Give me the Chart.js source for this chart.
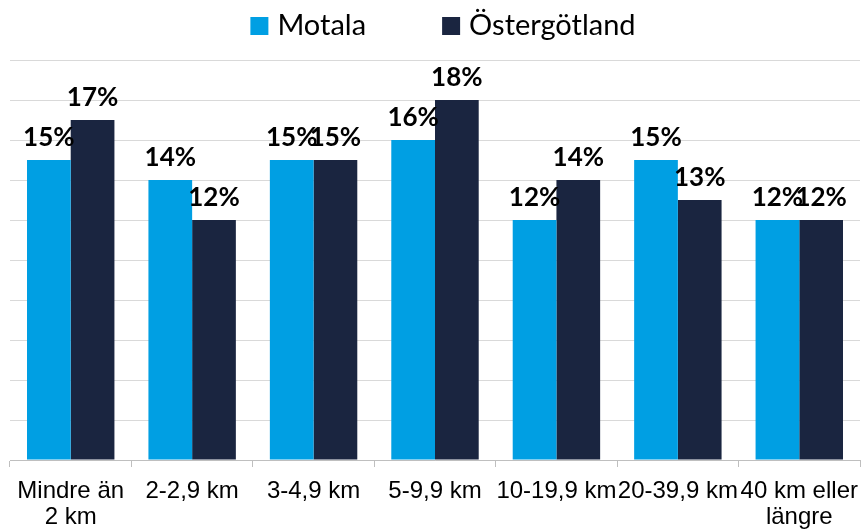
<!DOCTYPE html>
<html>
<head>
<meta charset="utf-8">
<script src="https://cdn.jsdelivr.net/npm/chart.js@4"></script>
<style>
html,body{margin:0;padding:0;background:#fff;}
#wrap{width:863px;height:529px;}
</style>
</head>
<body>
<div id="wrap"><canvas id="c" width="863" height="529"></canvas></div>
<script>
const categories = [["Mindre än","2 km"],"2-2,9 km","3-4,9 km","5-9,9 km","10-19,9 km","20-39,9 km",["40 km eller","längre"]];
const motala = [15,14,15,16,12,15,12];
const ostergotland = [17,12,15,18,14,13,12];
const seriesNames = ["Motala","Östergötland"];

const labelPlugin = {
  id:'barLabels',
  afterDatasetsDraw(chart){
    const ctx = chart.ctx;
    ctx.save();
    ctx.font = 'bold 26px Lato';
    ctx.fillStyle = '#000';
    ctx.textAlign = 'center';
    ctx.textBaseline = 'alphabetic';
    chart.data.datasets.forEach((ds,i)=>{
      const meta = chart.getDatasetMeta(i);
      meta.data.forEach((bar,j)=>{
        ctx.fillText(ds.data[j]+'%', bar.x, bar.y-14);
      });
    });
    ctx.restore();
  }
};

const legendPlugin = {
  id:'customLegend',
  afterDraw(chart){
    const ctx = chart.ctx;
    ctx.save();
    ctx.font = '29px Lato';
    ctx.textBaseline = 'alphabetic';
    ctx.textAlign = 'left';
    const box = 18, gapText = 9, gapItem = 76;
    const items = chart.data.datasets.map(ds=>({text:ds.label,color:ds.backgroundColor,w:ctx.measureText(ds.label).width}));
    let total = 0;
    items.forEach((it,i)=>{ total += box + gapText + it.w + (i>0?gapItem:0); });
    let x = 443 - total/2;
    items.forEach((it,i)=>{
      ctx.fillStyle = it.color;
      ctx.fillRect(x, 17, box, box);
      ctx.fillStyle = '#000';
      ctx.fillText(it.text, x + box + gapText, 35);
      x += box + gapText + it.w + gapItem;
    });
    ctx.restore();
  }
};

new Chart(document.getElementById('c'),{
  type:'bar',
  data:{
    labels:categories,
    datasets:[
      {label:seriesNames[0],data:motala,backgroundColor:'#009fe3',categoryPercentage:0.72,barPercentage:1},
      {label:seriesNames[1],data:ostergotland,backgroundColor:'#1a2540',categoryPercentage:0.72,barPercentage:1}
    ]
  },
  options:{
    responsive:false,
    animation:false,
    layout:{padding:{left:10,right:3,top:60,bottom:0}},
    plugins:{
      legend:{display:false},
      tooltip:{enabled:false}
    },
    scales:{
      x:{
        grid:{display:true,drawOnChartArea:false,drawTicks:true,tickLength:7,color:'#bfbfbf'},
        border:{color:'#bfbfbf'},
        ticks:{font:{family:'Liberation Sans',size:24,lineHeight:1.1},color:'#000',maxRotation:0,autoSkip:false,padding:11},
        afterFit(s){ s.height = 69; s.paddingLeft = 0; s.paddingRight = 0; }
      },
      y:{
        min:0,max:20,
        ticks:{display:false,stepSize:2},
        grid:{color:'#d9d9d9',drawTicks:false},
        border:{display:false}
      }
    }
  },
  plugins:[labelPlugin, legendPlugin]
});
</script>
</body>
</html>
